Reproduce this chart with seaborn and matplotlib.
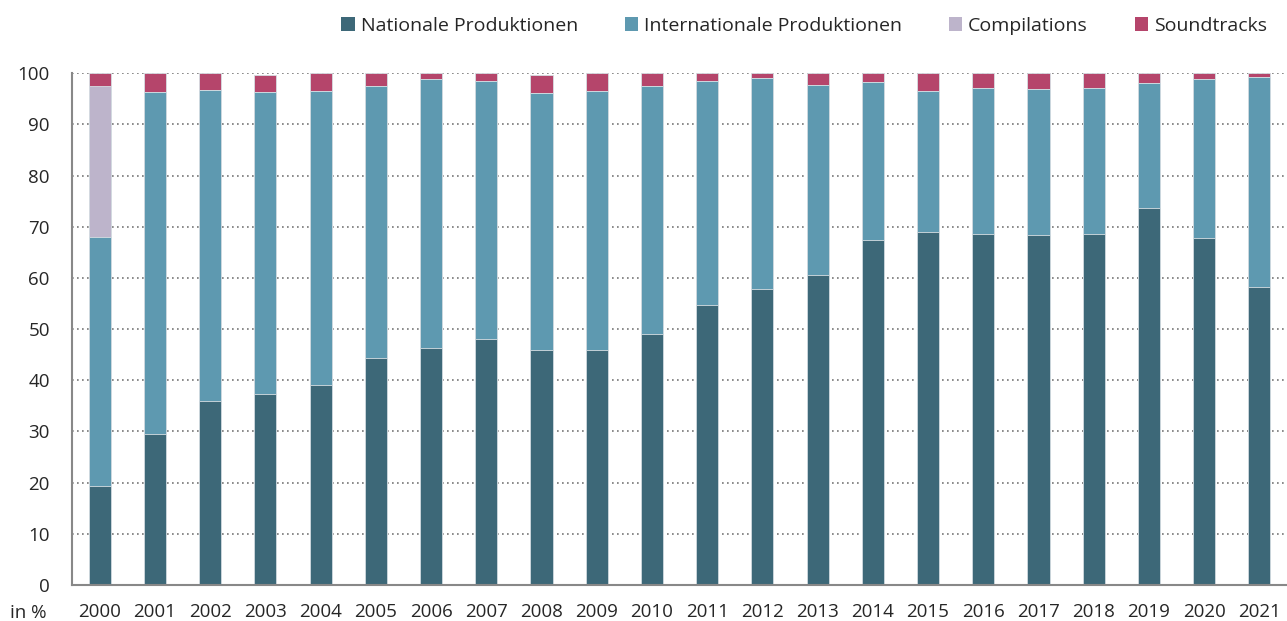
from matplotlib import pyplot as plt
import numpy as np
import pandas as pd
import seaborn as sns

years = [str(y) for y in range(2000, 2022)]
nationale = [19.3, 29.5, 36.0, 37.4, 39.0, 44.3, 46.4, 48.0, 46.0, 45.9, 49.0,
             54.7, 57.8, 60.5, 67.4, 69.0, 68.6, 68.4, 68.6, 73.6, 67.8, 58.3]
internationale = [48.7, 66.8, 60.7, 58.9, 57.6, 53.2, 52.4, 50.5, 50.1, 50.7, 48.5,
                  43.8, 41.2, 37.3, 30.9, 27.6, 28.6, 28.5, 28.5, 24.5, 31.0, 41.0]
compilations = [29.5, 0, 0, 0, 0, 0, 0, 0, 0, 0, 0,
                0, 0, 0, 0, 0, 0, 0, 0, 0, 0, 0]
soundtracks = [2.5, 3.7, 3.3, 3.3, 3.4, 2.5, 1.2, 1.5, 3.5, 3.4, 2.5,
               1.5, 1.0, 2.2, 1.7, 3.4, 2.8, 3.1, 2.9, 1.9, 1.2, 0.7]

series = ['Nationale Produktionen', 'Internationale Produktionen', 'Compilations', 'Soundtracks']
colors = ['#3d6878', '#5e99b0', '#bdb4cb', '#b5456b']

df = pd.DataFrame({'year': years, series[0]: nationale, series[1]: internationale,
                   series[2]: compilations, series[3]: soundtracks})
cum = df[series].cumsum(axis=1)

plt.rcParams.update({'figure.figsize': (12.87, 6.21), 'figure.dpi': 100})
sns.set_style('white')
plt.rcParams['font.family'] = ['Open Sans', 'DejaVu Sans']

fig, ax = plt.subplots()
fig.subplots_adjust(left=0.056, right=1.0, top=0.882, bottom=0.058)

# draw cumulative totals from the top down so each lower layer covers the next
for name, color in reversed(list(zip(series, colors))):
    sns.barplot(x=df['year'], y=cum[name], color=color, width=0.4, ax=ax,
                edgecolor='#d6dee3', linewidth=0.6, saturation=1, label=name, zorder=2)

ax.set_xlim(-0.5, len(years) - 0.5)
ax.set_ylim(0, 100)
ax.set_yticks(np.arange(0, 101, 10))
ax.set_xticks(np.arange(-0.5, len(years), 1), minor=True)
ax.tick_params(axis='x', which='major', length=0, pad=13, labelsize=13.5)
ax.tick_params(axis='x', which='minor', length=6, width=1.2, color='#888888', direction='out')
ax.tick_params(axis='y', length=6, width=1.2, color='#888888', direction='out', pad=10, labelsize=13.5)
ax.grid(axis='y', linestyle=(0, (1, 2)), color='#777777', linewidth=1.2, zorder=0)
ax.set_axisbelow(True)
ax.set_xlabel('')
ax.set_ylabel('')
for side in ['top', 'right']:
    ax.spines[side].set_visible(False)
for side in ['left', 'bottom']:
    ax.spines[side].set_color('#888888')
    ax.spines[side].set_linewidth(1.5)

ax.text(-0.051, -0.055, 'in %', transform=ax.transAxes, fontsize=13.5, ha='left', va='center')

handles, labels = ax.get_legend_handles_labels()
order = [labels.index(s) for s in series]
leg = ax.legend([handles[i] for i in order], series, loc='lower right',
                bbox_to_anchor=(0.99, 1.06), ncol=4, frameon=False, fontsize=14,
                handlelength=0.7, handleheight=0.7, handletextpad=0.3, columnspacing=2.4,
                borderaxespad=0)
for h in leg.legend_handles:
    h.set_edgecolor('none')

plt.savefig('out.png')
